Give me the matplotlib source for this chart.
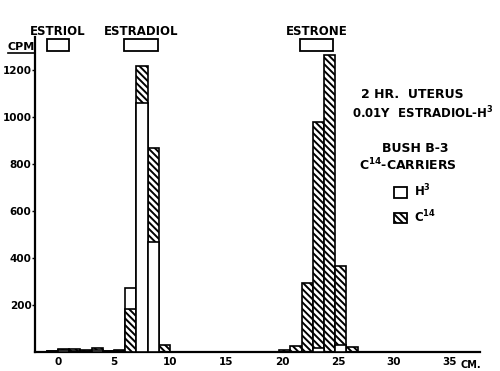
import matplotlib
matplotlib.use("Agg")
import matplotlib.pyplot as plt
from matplotlib.patches import Rectangle, Patch
from matplotlib.lines import Line2D

plt.rcParams['font.family'] = ['DejaVu Sans']
plt.rcParams['hatch.linewidth'] = 1.4

# Data: bin left edges (cm), counts per minute
bin_left = [-1, 0, 1, 2, 3, 4, 5, 6, 7, 8, 9,
            19.75, 20.75, 21.75, 22.75, 23.75, 24.75, 25.75]
h3_cpm = [3, 8, 6, 5, 10, 3, 4, 272, 1060, 468, 0,
          0, 0, 0, 15, 0, 30, 0]
c14_cpm = [6, 11, 12, 7, 16, 4, 8, 183, 1215, 868, 30,
           10, 26, 294, 979, 1264, 366, 22]
bin_width = 1.0

zones = ["ESTRIOL", "ESTRADIOL", "ESTRONE"]
zone_ranges = [(-1.0, 1.0), (5.9, 8.9), (21.65, 24.6)]

y_ticks = [200, 400, 600, 800, 1000, 1200]
x_ticks = [0, 5, 10, 15, 20, 25, 30, 35]

W, H = 500, 371
fig = plt.figure(figsize=(W / 100, H / 100), dpi=100)
ax = fig.add_axes([35 / W, 19 / H, 445 / W, 315 / H])
ax.set_xlim(-2.05, 37.68)
ax.set_ylim(0, 1340)

hatch = '\\\\\\\\\\'
for x, a, b in zip(bin_left, h3_cpm, c14_cpm):
    za, zb = (3, 2) if a <= b else (2, 3)
    if a > 0:
        ax.bar(x, a, width=bin_width, align='edge', facecolor='white',
               edgecolor='black', linewidth=1.2, zorder=za)
    if b > 0:
        ax.bar(x, b, width=bin_width, align='edge', facecolor='white',
               edgecolor='black', hatch=hatch, linewidth=1.2, zorder=zb)

for s in ['top', 'right']:
    ax.spines[s].set_visible(False)
for s in ['left', 'bottom']:
    ax.spines[s].set_linewidth(1.6)

ax.set_yticks(y_ticks)
ax.set_yticklabels([str(v) for v in y_ticks], fontsize=7.5, fontweight='bold')
ax.set_xticks(x_ticks)
ax.set_xticklabels([str(v) for v in x_ticks], fontsize=7.5, fontweight='bold')
ax.tick_params(axis='y', length=2, width=1, pad=0.5)
ax.tick_params(axis='x', length=0, pad=3.5)

# zone marker boxes and labels
for name, (x0, x1) in zip(zones, zone_ranges):
    r = Rectangle((x0, 1281), x1 - x0, 52, facecolor='white',
                  edgecolor='black', linewidth=1.3, clip_on=False, zorder=5)
    ax.add_patch(r)
    ax.text((x0 + x1) / 2, 1362, name, ha='center', va='center',
            fontsize=8.5, fontweight='bold', clip_on=False)


def ft(x, y, s, size=9, **kw):
    fig.text(x / W, 1 - y / H, s, fontsize=size, fontweight='bold',
             va='center', **kw)


ft(21, 47, "CPM", size=8, ha='center')
fig.add_artist(Line2D([8 / W, 34 / W], [1 - 53 / H, 1 - 53 / H],
                      color='black', linewidth=1.2))
ft(412, 94, "2 HR.  UTERUS", ha='center')
ft(423, 113, "0.01Y  ESTRADIOL-H$^{\\mathbf{3}}$", size=8.5, ha='center')
ft(415, 148, "BUSH B-3", ha='center')
ft(408, 165, "C$^{\\mathbf{14}}$-CARRIERS", ha='center')
ft(471, 365, "CM.", size=7, ha='center')

handles = [Patch(facecolor='white', edgecolor='black', linewidth=1.3),
           Patch(facecolor='white', edgecolor='black', hatch=hatch, linewidth=1.3)]
labels = ["H$^{\\mathbf{3}}$", "C$^{\\mathbf{14}}$"]
leg = ax.legend(handles, labels, loc='upper left',
                bbox_to_anchor=(388 / W, 1 - 177 / H), bbox_transform=fig.transFigure,
                frameon=False, handlelength=1.1, handleheight=1.0,
                handletextpad=0.6, labelspacing=0.75, borderpad=0,
                prop={'size': 8.5, 'weight': 'bold'})

fig.savefig("out.png", dpi=100)
